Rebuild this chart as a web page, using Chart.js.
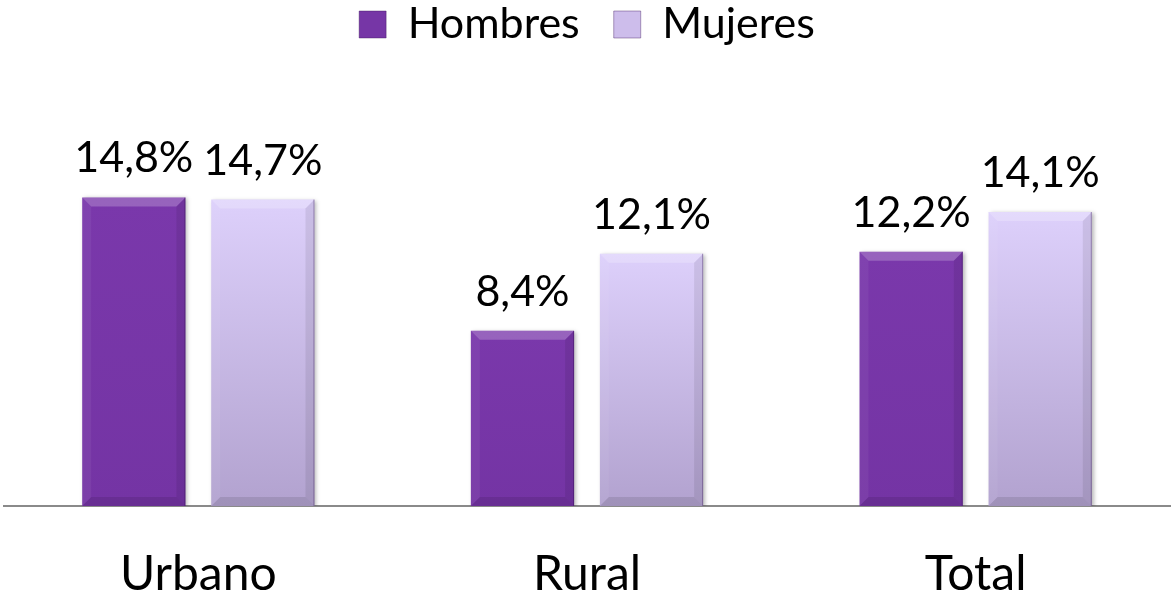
<!DOCTYPE html>
<html>
<head>
<meta charset="utf-8">
<script src="https://cdn.jsdelivr.net/npm/chart.js@4.4.0/dist/chart.umd.min.js"></script>
<style>
  html, body { margin: 0; padding: 0; background: #fff; }
  canvas { display: block; }
</style>
</head>
<body>
<canvas id="chart" width="1172" height="598"></canvas>
<script>
// datos del grafico
var categories = ["Urbano", "Rural", "Total"];
var seriesNames = ["Hombres", "Mujeres"];
var hombres = [14.8, 8.4, 12.2];
var mujeres = [14.7, 12.1, 14.1];

var FONT = "Lato, 'Open Sans', sans-serif";

function fmtPct(v) {
	return v.toFixed(1).replace(".", ",") + "%";
}

// degradado por barra (de arriba hacia abajo)
function barGradient(top, bottom) {
	return function(ctx) {
		var chart = ctx.chart;
		if (!chart.chartArea || ctx.raw === undefined) return top;
		var y = chart.scales.y;
		var y0 = y.getPixelForValue(ctx.raw), y1 = y.getPixelForValue(0);
		var g = chart.ctx.createLinearGradient(0, y0, 0, y1);
		g.addColorStop(0, top);
		g.addColorStop(1, bottom);
		return g;
	};
}

// efecto biselado de las barras
var bevelPlugin = {
	id: "bevel",
	beforeDatasetDraw: function(chart) {
		var c = chart.ctx;
		c.save();
		c.shadowColor = "rgba(0,0,0,0.28)";
		c.shadowBlur = 4;
		c.shadowOffsetX = 2;
		c.shadowOffsetY = 1;
	},
	afterDatasetDraw: function(chart, args) {
		var c = chart.ctx;
		c.restore();
		var b = 9;
		args.meta.data.forEach(function(el) {
			var l = el.x - el.width / 2, r = el.x + el.width / 2, t = el.y, bt = el.base;
			function poly(pts, fill) {
				c.beginPath();
				c.moveTo(pts[0], pts[1]);
				for (var i = 2; i < pts.length; i += 2) c.lineTo(pts[i], pts[i + 1]);
				c.closePath();
				c.fillStyle = fill;
				c.fill();
			}
			c.save();
			poly([l, t, r, t, r - b, t + b, l + b, t + b], "rgba(255,255,255,0.22)");
			poly([l, t, l + b, t + b, l + b, bt - b, l, bt], "rgba(255,255,255,0.05)");
			poly([r, t, r - b, t + b, r - b, bt - b, r, bt], "rgba(0,0,0,0.08)");
			poly([l, bt, l + b, bt - b, r - b, bt - b, r, bt], "rgba(0,0,0,0.10)");
			c.strokeStyle = "rgba(40,10,70,0.35)";
			c.lineWidth = 1;
			c.beginPath();
			c.moveTo(r - 0.5, t);
			c.lineTo(r - 0.5, bt);
			c.stroke();
			c.restore();
		});
	}
};

// etiquetas de valor encima de cada barra
var valueLabels = {
	id: "valueLabels",
	afterDatasetsDraw: function(chart) {
		var c = chart.ctx;
		c.save();
		c.font = "43px " + FONT;
		c.fillStyle = "#000";
		c.textAlign = "center";
		c.textBaseline = "alphabetic";
		chart.data.datasets.forEach(function(ds, i) {
			chart.getDatasetMeta(i).data.forEach(function(el, j) {
				c.fillText(fmtPct(ds.data[j]), el.x, el.y - 25);
			});
		});
		c.restore();
	}
};

// altura fija de la leyenda
var legendHeight = {
	id: "legendHeight",
	beforeInit: function(chart) {
		var fit = chart.legend.fit;
		chart.legend.fit = function() {
			fit.call(this);
			this.height = 120;
		};
	}
};

var legendColors = ["#7636a6", "#cdbdeb"];

new Chart(document.getElementById("chart"), {
	type: "bar",
	data: {
		labels: categories,
		datasets: [{
			label: seriesNames[0],
			data: hombres,
			backgroundColor: barGradient("#7a38ab", "#7434a4"),
			borderWidth: 0,
			categoryPercentage: 0.664,
			barPercentage: 0.8
		}, {
			label: seriesNames[1],
			data: mujeres,
			backgroundColor: barGradient("#ddd0fb", "#b2a2cf"),
			borderWidth: 0,
			categoryPercentage: 0.664,
			barPercentage: 0.8
		}]
	},
	options: {
		responsive: false,
		animation: false,
		devicePixelRatio: 1,
		layout: {padding: {top: -31, left: 4, right: 2, bottom: 0}},
		plugins: {
			tooltip: {enabled: false},
			legend: {
				display: true,
				position: "top",
				labels: {
					font: {family: FONT, size: 43},
					color: "#000",
					boxWidth: 27,
					boxHeight: 27,
					padding: 34,
					generateLabels: function(chart) {
						return chart.data.datasets.map(function(ds, i) {
							return {
								text: ds.label,
								fillStyle: legendColors[i],
								strokeStyle: "rgba(60,20,90,0.4)",
								lineWidth: 1,
								hidden: false,
								datasetIndex: i
							};
						});
					}
				}
			}
		},
		scales: {
			x: {
				grid: {display: false, drawTicks: false},
				border: {display: true, color: "#8a8a8a", width: 2},
				ticks: {
					color: "#000",
					font: {family: FONT, size: 48},
					padding: 40
				},
				afterFit: function(scale) { scale.height = 92; }
			},
			y: {
				display: false,
				min: 0,
				max: 20
			}
		}
	},
	plugins: [legendHeight, bevelPlugin, valueLabels]
});
</script>
</body>
</html>
